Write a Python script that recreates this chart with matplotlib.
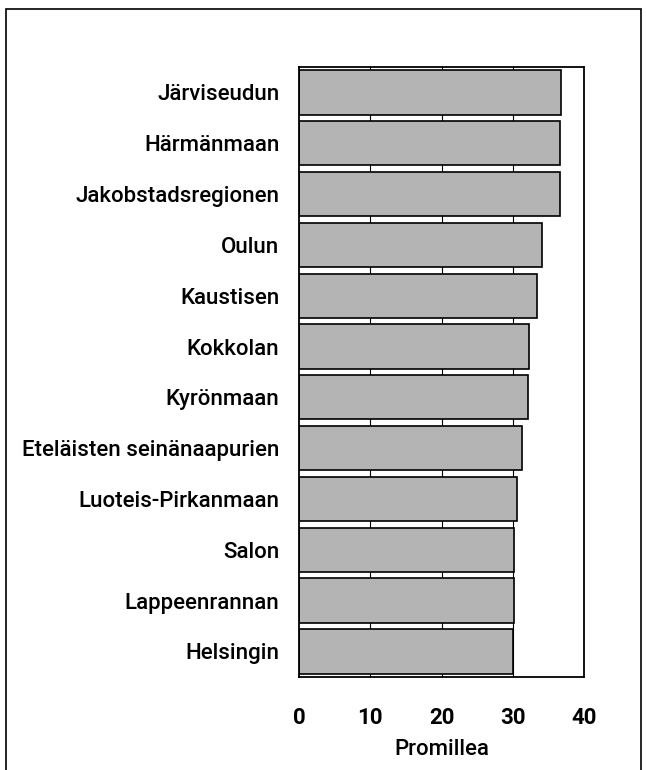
import matplotlib.pyplot as plt
from matplotlib.patches import Rectangle

regions = ["Järviseudun", "Härmänmaan", "Jakobstadsregionen", "Oulun", "Kaustisen",
           "Kokkolan", "Kyrönmaan", "Eteläisten seinänaapurien", "Luoteis-Pirkanmaan",
           "Salon", "Lappeenrannan", "Helsingin"]
values = [36.7, 36.6, 36.6, 34.1, 33.4, 32.3, 32.1, 31.3, 30.6, 30.2, 30.1, 30.0]
xticks = [0, 10, 20, 30, 40]

plt.rcParams['font.family'] = ['Roboto', 'DejaVu Sans']

fig = plt.figure(figsize=(6.47, 7.7), dpi=100)
ax = fig.add_axes([0.462, 0.121, 0.441, 0.792])

ypos = list(range(len(regions)))
ax.barh(ypos, values, height=0.87, color='#b4b4b4', edgecolor='black', linewidth=1.2, zorder=2)

ax.set_ylim(len(regions) - 0.5, -0.5)
ax.set_xlim(0, 40)
ax.set_yticks(ypos)
ax.set_yticklabels(regions, fontsize=16, fontweight='medium')
ax.set_xticks(xticks)
ax.set_xticklabels([str(t) for t in xticks], fontsize=16, fontweight='bold')
ax.tick_params(axis='y', length=0, pad=14)
ax.tick_params(axis='x', length=0, pad=22)
ax.set_xlabel("Promillea", fontsize=16, fontweight='medium', labelpad=7)

for x in xticks[1:-1]:
    ax.axvline(x, color='black', linewidth=0.8, zorder=1)

for s in ax.spines.values():
    s.set_linewidth(1.3)

# outer frame of the figure
fig.patches.append(Rectangle((6 / 647, -0.05), 635 / 647, 1.05 - 9 / 770,
                             transform=fig.transFigure, fill=False,
                             edgecolor='black', linewidth=1.2))

fig.savefig("out.png", dpi=100)
